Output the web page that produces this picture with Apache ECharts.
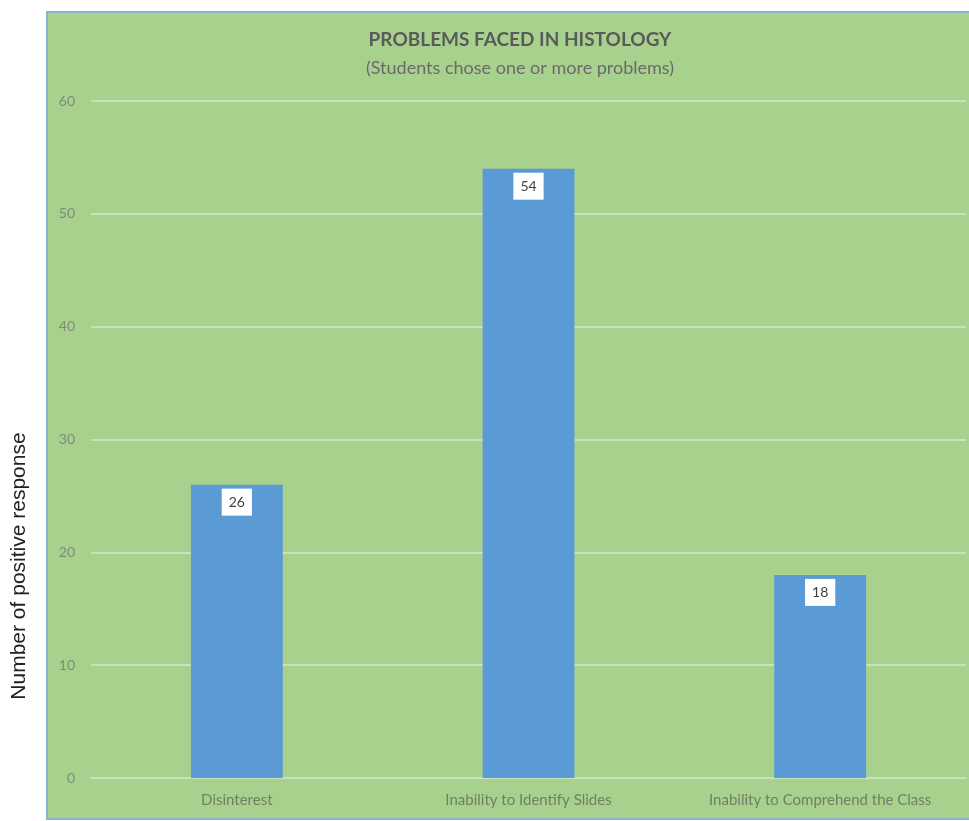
<!DOCTYPE html>
<html>
<head>
<meta charset="utf-8">
<script src="https://cdn.jsdelivr.net/npm/echarts@6/dist/echarts.min.js"></script>
<style>
  html, body { margin: 0; padding: 0; background: #ffffff; }
  #chart { width: 969px; height: 821px; }
</style>
</head>
<body>
<div id="chart"></div>
<script>
// Survey results: problems students reported in histology
const categories = ['Disinterest', 'Inability to Identify Slides', 'Inability to Comprehend the Class'];
const responses = [26, 54, 18];
const yTicks = { min: 0, max: 60, interval: 10 };

const chart = echarts.init(document.getElementById('chart'));

chart.setOption({
  animation: false,
  backgroundColor: '#ffffff',
  title: {
    text: 'PROBLEMS FACED IN HISTOLOGY',
    subtext: '(Students chose one or more problems)',
    left: 515,
    textAlign: 'center',
    top: 25,
    itemGap: 10,
    textStyle: { fontFamily: 'Lato', fontSize: 19, fontWeight: 'bold', color: '#5a5a5a' },
    subtextStyle: { fontFamily: 'Lato', fontSize: 18, color: '#6a6a6a' }
  },
  graphic: [
    {
      type: 'rect',
      z: -10,
      shape: { x: 47, y: 12, width: 925, height: 807 },
      style: { fill: '#a9d18e', stroke: '#86b5cf', lineWidth: 2 }
    },
    {
      type: 'text',
      x: 19,
      y: 566,
      rotation: Math.PI / 2,
      style: {
        text: 'Number of positive response',
        fontFamily: 'Liberation Sans',
        fontSize: 21,
        fill: '#222222',
        align: 'center',
        verticalAlign: 'middle'
      }
    }
  ],
  grid: { left: 91, right: 3, top: 101, bottom: 43 },
  xAxis: {
    type: 'category',
    data: categories,
    axisLine: { show: true, lineStyle: { color: '#cbe0bd', width: 2 } },
    axisTick: { show: false },
    axisLabel: { fontFamily: 'Lato', fontSize: 15, color: '#6f7f66', margin: 15 }
  },
  yAxis: {
    type: 'value',
    min: yTicks.min,
    max: yTicks.max,
    interval: yTicks.interval,
    axisLine: { show: false },
    axisTick: { show: false },
    axisLabel: { fontFamily: 'Lato', fontSize: 14, color: '#7d8d74', margin: 16 },
    splitLine: { lineStyle: { color: '#cbe0bd', width: 2 } }
  },
  series: [{
    type: 'bar',
    data: responses,
    barWidth: '31.5%',
    itemStyle: { color: '#5b9bd5' },
    label: {
      show: true,
      position: 'insideTop',
      distance: 4,
      backgroundColor: '#ffffff',
      padding: [7, 7, 6, 7],
      fontFamily: 'Lato',
      fontSize: 14,
      color: '#404040'
    }
  }]
});
</script>
</body>
</html>
